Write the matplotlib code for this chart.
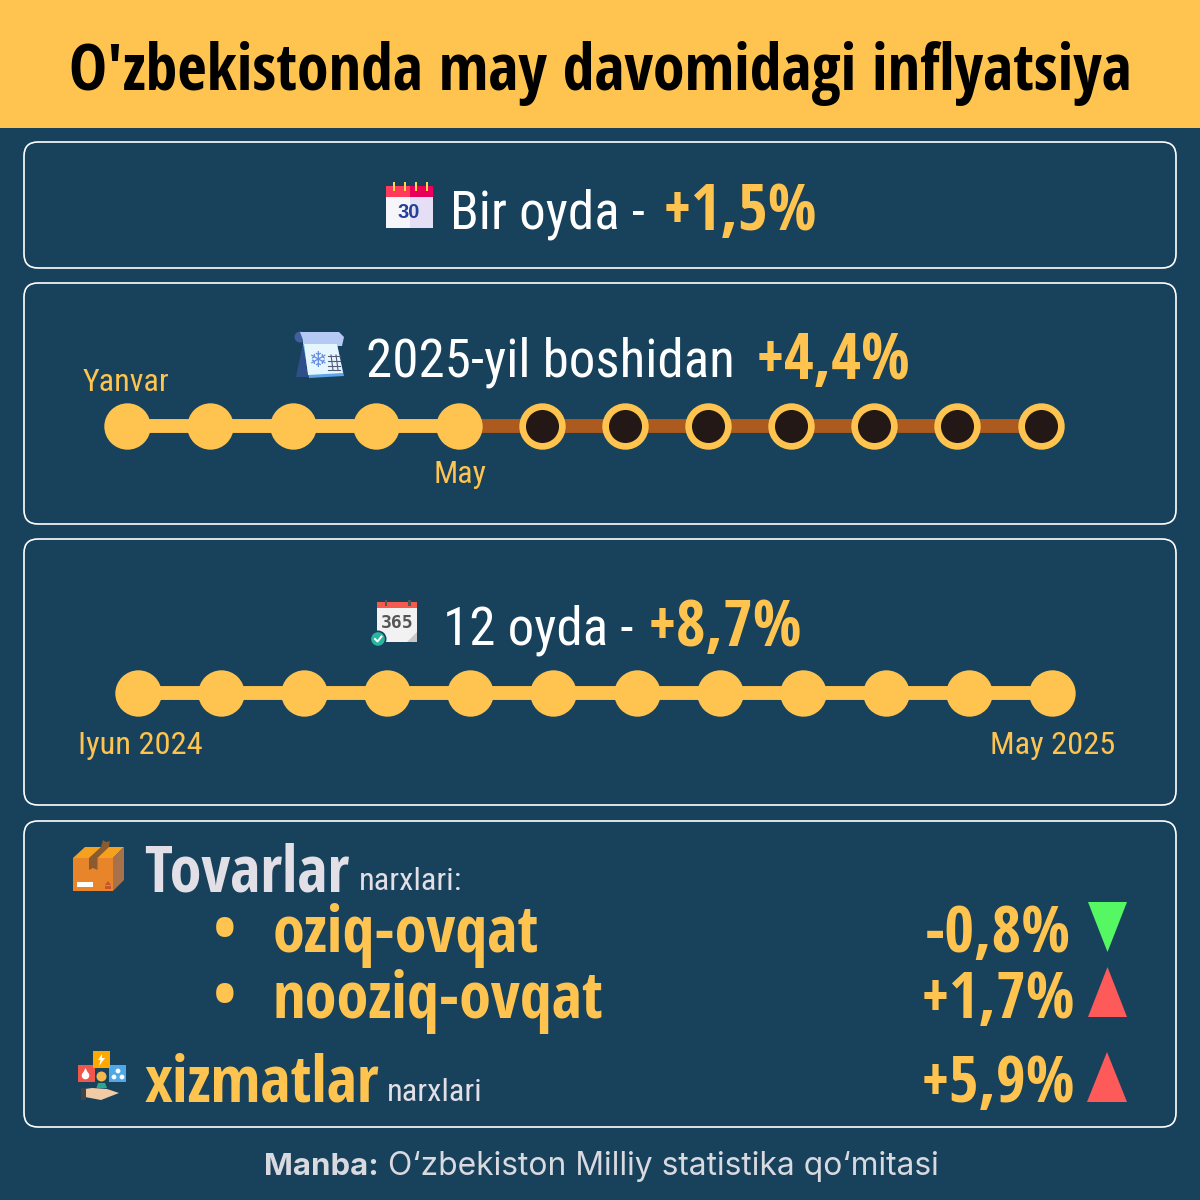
import matplotlib
matplotlib.use("Agg")
import matplotlib.pyplot as plt
from matplotlib import font_manager
from matplotlib.patches import FancyBboxPatch, Polygon, Rectangle, Circle

BG = "#18425C"
YELLOW = "#FFC44F"
BROWN = "#AD5A1E"
DARK = "#231815"
WHITE = "#FFFFFF"
GREY = "#E2DFE6"

title = "O'zbekistonda may davomidagi inflyatsiya"
monthly = 1.5
since_january = 4.4
yearly = 8.7
food = -0.8
non_food = 1.7
services = 5.9
months_2025 = ["Yanvar", "Fevral", "Mart", "Aprel", "May", "Iyun", "Iyul", "Avgust",
               "Sentabr", "Oktabr", "Noyabr", "Dekabr"]
months_passed = 5
months_12 = ["Iyun 2024", "Iyul", "Avgust", "Sentabr", "Oktabr", "Noyabr", "Dekabr",
             "Yanvar", "Fevral", "Mart", "Aprel", "May 2025"]

names = {f.name for f in font_manager.fontManager.ttflist}
BOLD = next(n for n in ["Open Sans Condensed", "Liberation Sans Narrow"] if n in names)
# the condensed Open Sans here only comes in bold, so thin text needs another family
THIN = next(n for n in ["Open Sans Condensed Light", "Roboto Condensed", "Liberation Sans Narrow"]
            if n in names)
THIN_BIG = 38.2
THIN_SMALL = 23.4

fig = plt.figure(figsize=(12, 12), dpi=100, facecolor=BG)
ax = fig.add_axes([0, 0, 1, 1])
ax.set_xlim(0, 1200)
ax.set_ylim(1200, 0)
ax.axis("off")


def pct(v):
    return f"{v:+.1f}%".replace(".", ",")


def thin(x, y, s, size, color=WHITE, ha="left"):
    ax.text(x, y, s, fontsize=size, color=color, ha=ha, va="baseline", family=THIN)


def bold(x, y, s, size=46.4, color=YELLOW, ha="left"):
    ax.text(x, y, s, fontsize=size, color=color, fontweight="bold", ha=ha, va="baseline", family=BOLD)


def rect(x0, y0, x1, y1, color, z=3):
    ax.add_patch(Rectangle((x0, y0), x1 - x0, y1 - y0, fc=color, ec="none", zorder=z))


def poly(points, color, z=3):
    ax.add_patch(Polygon(points, closed=True, fc=color, ec="none", zorder=z))


def timeline(first_px, step_px, y_px, n, done):
    # one month = one x unit, axes placed so the dots land on the page grid
    tl = fig.add_axes([(first_px - step_px / 2) / 1200, 1 - (y_px + 30) / 1200,
                       step_px * n / 1200, 60 / 1200])
    tl.set_xlim(-0.5, n - 0.5)
    tl.set_ylim(-1, 1)
    tl.axis("off")
    idx = list(range(n))
    if done < n:
        tl.plot(idx[done - 1:], [0] * (n - done + 1), color=BROWN, lw=10, solid_capstyle="butt", zorder=1)
        tl.plot(idx[done:], [0] * (n - done), "o", ms=28.6, mfc=DARK, mec=YELLOW, mew=4.8, zorder=2)
    tl.plot(idx[:done], [0] * done, color=YELLOW, lw=10, solid_capstyle="butt", zorder=3)
    tl.plot(idx[:done], [0] * done, "o", ms=33.4, color=YELLOW, mew=0, zorder=4)


def icon_calendar():
    rect(386, 186, 409.5, 197, "#FF3B5C")
    rect(409.5, 186, 432.5, 197, "#E8005A")
    rect(386, 197, 409.5, 228, "#F6F6FA")
    rect(409.5, 197, 432.5, 228, "#E4DFF5")
    for x in [392.5, 403.5, 414.5, 425.5]:
        rect(x, 182, x + 2.6, 191, "#FFD84F", 4)
    ax.text(409, 213, "30", fontsize=14.5, fontweight="bold", color="#23409A", ha="center",
            va="center", family="Liberation Sans", zorder=5)


def icon_snow():
    poly([(296, 377), (303, 343), (308, 377)], "#2E4F8A")
    ax.add_patch(Circle((300, 337), 5.5, fc="#3F5F9E", ec="none", zorder=3))
    poly([(300, 332), (339, 332), (344, 337), (342, 346), (303, 346), (303, 340)], "#B5C9F5")
    poly([(303, 344), (337, 344), (344, 376), (309, 378)], "#5FA3E8", 4)
    poly([(304, 344), (337, 344), (343, 373), (308, 375)], "#E6F6FF", 5)
    ax.text(317, 361, "\u2744", fontsize=16, color="#6A8FE0", ha="center", va="center",
            family="DejaVu Sans", zorder=6)
    for y in [356, 361, 366, 370]:
        ax.plot([328, 340], [y, y], color="#555A75", lw=0.8, zorder=6)
    ax.plot([331, 333], [355, 370], color="#555A75", lw=0.8, zorder=6)
    ax.plot([336, 338], [355, 370], color="#555A75", lw=0.8, zorder=6)


def icon_365():
    rect(377, 607, 417, 642, "#F2F2F2")
    poly([(407, 642), (417, 632), (417, 642)], "#C9C9C9", 4)
    rect(377, 602, 417, 608, "#F55A4E")
    for x in [384.5, 408]:
        rect(x, 600, x + 2.5, 606, "#555555", 4)
    ax.text(397, 623, "365", fontsize=13, fontweight="bold", color="#555555", ha="center",
            va="center", family="DejaVu Sans Mono", zorder=5)
    ax.add_patch(Circle((378, 639), 8.5, fc=BG, ec="none", zorder=6))
    ax.add_patch(Circle((378, 639), 6.8, fc="#2BB5A0", ec="none", zorder=7))
    ax.plot([375, 377.5, 381.5], [639, 641.5, 636.5], color=WHITE, lw=1.4, zorder=8)


def icon_box():
    rect(73, 858, 113, 891, "#E8842A")
    poly([(73, 858), (85, 847), (124, 847), (113, 858)], "#F5A11F")
    poly([(113, 858), (124, 847), (124, 880), (113, 891)], "#A9714A")
    poly([(89, 858), (97.5, 858), (109, 847), (101, 847)], "#8A5A30", 4)
    poly([(101, 847), (109, 847), (110, 841), (106, 842), (103, 840)], "#8A5A30", 4)
    poly([(89, 858), (97.5, 858), (97.5, 870), (93, 868), (89, 870)], "#8A5A30", 4)
    rect(76.5, 882, 92.5, 887, WHITE, 4)
    poly([(105, 885), (108, 881), (111, 885)], "#C8552A", 4)
    rect(105, 886, 111, 888.5, "#C8552A", 4)


def icon_services():
    rect(77.5, 1065, 94.5, 1082, "#F0564A")
    rect(109, 1065, 126, 1082, "#4FA8E8")
    rect(92.5, 1051, 110, 1068, "#FFA800", 4)
    poly([(102, 1054), (98, 1060), (100.5, 1060), (99, 1066), (105, 1058), (102, 1058)], WHITE, 5)
    ax.add_patch(Circle((85.5, 1075.5), 3.8, fc=WHITE, ec="none", zorder=5))
    poly([(85.5, 1068), (82, 1075), (89, 1075)], WHITE, 5)
    for cx, cy in [(118, 1071), (114, 1077), (122, 1077)]:
        ax.add_patch(Circle((cx, cy), 2.4, fc=WHITE, ec="none", zorder=5))
    ax.add_patch(Circle((101.5, 1076.5), 5, fc="#F5B84A", ec="none", zorder=6))
    poly([(96.5, 1088), (98, 1083), (105, 1083), (107, 1088)], "#2AA88F", 6)
    poly([(85, 1089), (92, 1088), (107, 1089), (119, 1093), (101, 1100), (85, 1097)], "#F0CBA5", 6)
    rect(81, 1088, 85.5, 1100, "#444444", 6)


# header
rect(0, 0, 1200, 128, YELLOW, 1)
bold(600, 90, title, 46.1, "#000000", "center")

for y0, y1 in [(142, 268), (283, 524), (539, 805), (821, 1127)]:
    ax.add_patch(FancyBboxPatch((38, y0 + 14), 1124, y1 - y0 - 28,
                                boxstyle="round,pad=14,rounding_size=14",
                                fc="none", ec=WHITE, lw=1.2, zorder=2))

# one month
icon_calendar()
thin(450, 228, "Bir oyda -", THIN_BIG)
bold(663, 230, pct(monthly))

# since january
icon_snow()
thin(366, 377, "2025-yil boshidan", THIN_BIG)
bold(756, 379, pct(since_january))
timeline(127, 83.05, 426, len(months_2025), months_passed)
thin(126, 391, months_2025[0], 23, YELLOW, "center")
thin(460, 483, months_2025[months_passed - 1], 23, YELLOW, "center")

# twelve months
icon_365()
thin(443, 644, "12 oyda -", THIN_BIG)
bold(648, 646, pct(yearly))
timeline(138, 83.1, 693, len(months_12), len(months_12))
thin(78, 754, months_12[0], THIN_SMALL, YELLOW)
thin(1115, 754, months_12[-1], THIN_SMALL, YELLOW, "right")

# goods and services
icon_box()
bold(144, 891, "Tovarlar", color=GREY)
thin(359, 890, "narxlari:", THIN_SMALL, GREY)
bold(225, 951, "\u2022", ha="center")
bold(225, 1017, "\u2022", ha="center")
bold(273, 952, "oziq-ovqat")
bold(273, 1018, "nooziq-ovqat")
bold(1071, 952, pct(food).replace("+", ""), ha="right")
bold(1075, 1018, pct(non_food), ha="right")
icon_services()
bold(145, 1102, "xizmatlar")
thin(387, 1101, "narxlari", THIN_SMALL, GREY)
bold(1075, 1102, pct(services), ha="right")

poly([(1088, 902), (1127, 902), (1107.5, 952)], "#55F763")
poly([(1107.5, 967), (1088, 1017), (1127, 1017)], "#FF5A5A")
poly([(1107, 1052), (1087, 1102), (1127, 1102)], "#FF5A5A")

# source
ax.text(264, 1175, "Manba:", fontsize=22.4, color="#D9D9E0", fontweight="bold", va="baseline", family="Inter")
ax.text(388, 1175, "O\u2018zbekiston Milliy statistika qo\u2018mitasi", fontsize=22.9, color="#D9D9E0",
        va="baseline", family="Inter")

fig.savefig("out.png", dpi=100, facecolor=BG)
